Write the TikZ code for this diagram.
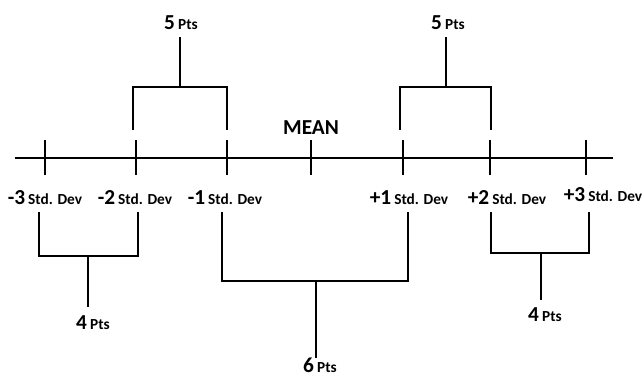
\documentclass[tikz,border=0pt]{standalone}
\usepackage{fontspec}
\setmainfont{Carlito}
\newcommand{\bignum}[1]{{\fontsize{16}{18}\selectfont #1}}
\newcommand{\smalltxt}[1]{{\fontsize{11.5}{13}\selectfont #1}}
\begin{document}
\begin{tikzpicture}[x=0.75pt,y=-0.75pt,
  rule/.style={line width=1.6pt,line cap=butt},
  lbl/.style={inner sep=0pt,font=\bfseries,anchor=base}]
\useasboundingbox (0,0) rectangle (642,376);

% axis
\coordinate (axL) at (15,158);
\coordinate (axR) at (613,158);
\draw[rule] (axL) -- (axR);

% tick marks
\foreach \n/\x in {m3/45,m2/136,m1/227,z/311,p1/403,p2/490,p3/586}{
  \coordinate (\n top) at (\x,140);
  \coordinate (\n bot) at (\x,175);
  \draw[rule] (\n top) -- (\n bot);
}

% axis labels
\node[lbl] (mean) at (311,134) {\bignum{MEAN}};
\node[lbl] (lm3) at (45,204) {\bignum{-3} \smalltxt{Std. Dev}};
\node[lbl] (lm2) at (135,204) {\bignum{-2} \smalltxt{Std. Dev}};
\node[lbl] (lm1) at (225,204) {\bignum{-1} \smalltxt{Std. Dev}};
\node[lbl] (lp1) at (409,204) {\bignum{+1} \smalltxt{Std. Dev}};
\node[lbl] (lp2) at (507,204) {\bignum{+2} \smalltxt{Std. Dev}};
\node[lbl] (lp3) at (603,201) {\bignum{+3} \smalltxt{Std. Dev}};

% upper brackets
\coordinate (ua1) at (133,130); \coordinate (ua2) at (227,130);
\coordinate (uas) at (180,87);  \coordinate (uat) at (180,37);
\draw[rule] (ua1) |- (uas) -| (ua2);
\draw[rule] (uas) -- (uat);
\node[lbl] (pa) at (181,29) {\bignum{5} \smalltxt{Pts}};

\coordinate (ub1) at (400,130); \coordinate (ub2) at (491,130);
\coordinate (ubs) at (446,87);  \coordinate (ubt) at (446,37);
\draw[rule] (ub1) |- (ubs) -| (ub2);
\draw[rule] (ubs) -- (ubt);
\node[lbl] (pb) at (448,29) {\bignum{5} \smalltxt{Pts}};

% lower brackets
\coordinate (la1) at (39,212); \coordinate (la2) at (138,212);
\coordinate (las) at (88,256); \coordinate (lat) at (88,307);
\draw[rule] (la1) |- (las) -| (la2);
\draw[rule] (las) -- (lat);
\node[lbl] (pc) at (93,329) {\bignum{4} \smalltxt{Pts}};

\coordinate (lb1) at (222,212); \coordinate (lb2) at (408,212);
\coordinate (lbs) at (316,281); \coordinate (lbt) at (316,358);
\draw[rule] (lb1) |- (lbs) -| (lb2);
\draw[rule] (lbs) -- (lbt);
\node[lbl] (pd) at (320,372) {\bignum{6} \smalltxt{Pts}};

\coordinate (lc1) at (491,212); \coordinate (lc2) at (589,212);
\coordinate (lcs) at (541,253); \coordinate (lct) at (541,300);
\draw[rule] (lc1) |- (lcs) -| (lc2);
\draw[rule] (lcs) -- (lct);
\node[lbl] (pe) at (545,321) {\bignum{4} \smalltxt{Pts}};
\end{tikzpicture}
\end{document}
